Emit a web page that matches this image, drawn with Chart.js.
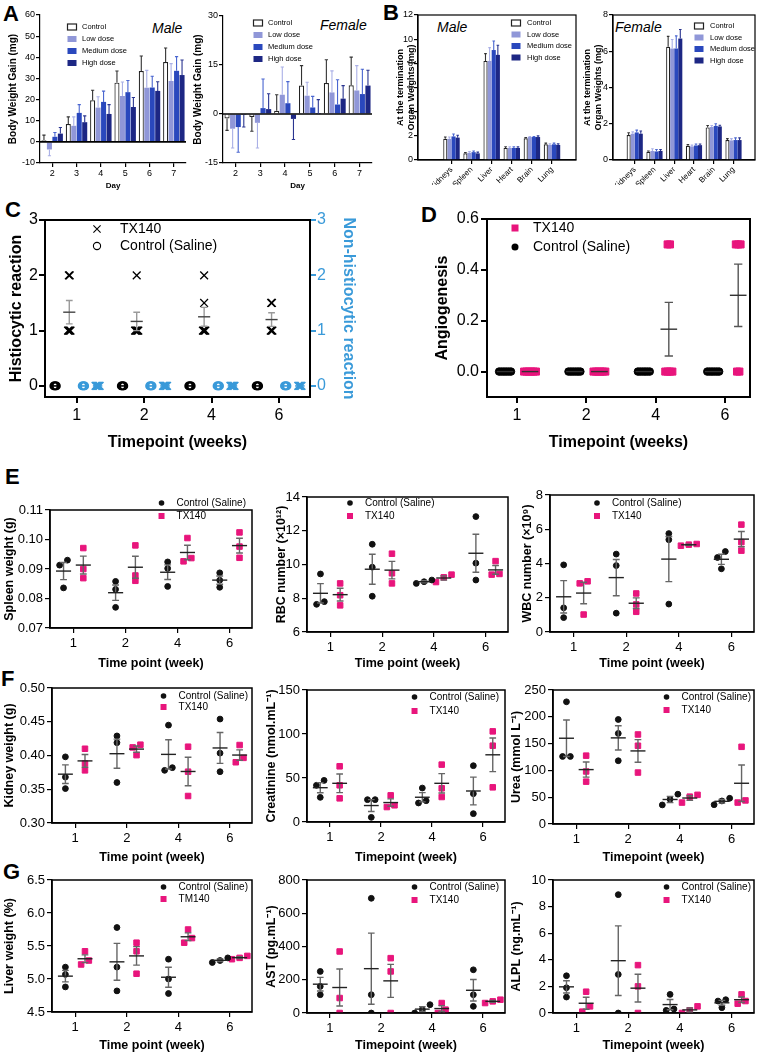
<!DOCTYPE html>
<html>
<head>
<meta charset="utf-8">
<title>Toxicity panels</title>
<script src="https://cdn.jsdelivr.net/npm/chart.js@4.4.1/dist/chart.umd.min.js"></script>
<style>
  html, body { margin: 0; padding: 0; background: #fff; }
  body { position: relative; width: 760px; height: 1058px; overflow: hidden; font-family: Arial, "Liberation Sans", sans-serif; }
  canvas { position: absolute; }
  .tag { position: absolute; font-weight: bold; font-size: 22px; line-height: 1; }
  .sex { position: absolute; font-style: italic; font-size: 14px; line-height: 1; }
</style>
</head>
<body>
<div class="tag" style="left:3px;top:3px">A</div>
<div class="tag" style="left:383px;top:2px">B</div>
<div class="tag" style="left:5px;top:199px">C</div>
<div class="tag" style="left:421px;top:204px">D</div>
<div class="tag" style="left:5px;top:466px">E</div>
<div class="tag" style="left:1px;top:668px">F</div>
<div class="tag" style="left:3px;top:861px">G</div>
<div class="sex" style="left:152px;top:21px">Male</div>
<div class="sex" style="left:320px;top:18px">Female</div>
<div class="sex" style="left:437px;top:20px">Male</div>
<div class="sex" style="left:615px;top:20px">Female</div>

<script>
// ---------- data: body weight gain (A) ----------
const days = ['2', '3', '4', '5', '6', '7'];
const doses = ['Control', 'Low dose', 'Medium dose', 'High dose'];
const maleGain = [
  [0.8, 8.4, 19.7, 28.0, 33.5, 37.8],
  [-3.6, 7.6, 16.2, 21.7, 25.6, 28.8],
  [2.4, 13.7, 18.9, 23.5, 25.7, 33.6],
  [3.9, 9.3, 13.2, 16.5, 24.1, 31.6]
];
const maleGainSD = [
  [2.4, 3.4, 4.7, 5.5, 7.1, 6.6],
  [3.0, 4.2, 5.1, 6.6, 8.2, 8.2],
  [2.0, 3.9, 5.1, 5.5, 5.3, 6.7],
  [2.9, 3.0, 4.4, 4.5, 4.3, 7.1]
];
const femaleGain = [
  [-1.4, -0.9, 1.0, 8.7, 9.5, 8.8],
  [-4.5, -2.7, 5.9, 5.6, 6.6, 7.2],
  [-4.0, 1.8, 3.3, 2.0, 2.9, 6.1],
  [-0.3, 1.5, -1.5, 0.05, 4.7, 8.7]
];
const femaleGainSD = [
  [3.6, 4.4, 4.9, 6.1, 7.1, 8.6],
  [5.9, 7.7, 8.5, 4.1, 6.6, 7.6],
  [7.7, 8.9, 6.6, 3.4, 7.6, 7.6],
  [3.7, 4.7, 6.3, 4.35, 4.0, 4.7]
];

// ---------- data: organ weights (B) ----------
const organs = ['Kidneys', 'Spleen', 'Liver', 'Heart', 'Brain', 'Lung'];
const maleOrgan = [
  [1.75, 0.55, 8.2, 1.0, 1.8, 1.3],
  [1.75, 0.6, 8.2, 1.0, 1.9, 1.25],
  [1.95, 0.65, 9.1, 1.0, 1.9, 1.3],
  [1.85, 0.55, 8.7, 1.0, 1.9, 1.25]
];
const maleOrganSD = [
  [0.15, 0.07, 0.6, 0.1, 0.05, 0.1],
  [0.15, 0.1, 1.1, 0.1, 0.05, 0.1],
  [0.2, 0.1, 0.75, 0.1, 0.05, 0.1],
  [0.2, 0.1, 0.8, 0.1, 0.1, 0.1]
];
const femaleOrgan = [
  [1.38, 0.45, 6.25, 0.78, 1.8, 1.1],
  [1.45, 0.5, 6.15, 0.75, 1.82, 1.08],
  [1.52, 0.47, 6.15, 0.8, 1.88, 1.1],
  [1.45, 0.5, 6.7, 0.82, 1.85, 1.1]
];
const femaleOrganSD = [
  [0.12, 0.05, 0.57, 0.07, 0.1, 0.08],
  [0.1, 0.12, 0.5, 0.07, 0.08, 0.1],
  [0.13, 0.11, 0.7, 0.08, 0.12, 0.12],
  [0.15, 0.08, 0.5, 0.06, 0.07, 0.12]
];

// ---------- data: histology scores (C, D) ----------
const weeks = ['1', '2', '4', '6'];
const histTX = [[2, 2, 1, 1, 1, 1], [2, 1, 1, 1, 1, 1], [2, 1.5, 1, 1, 1, 1], [1.5, 1.5, 1, 1, 1]];
const histCtrl = [[0, 0, 0, 0, 0], [0, 0, 0, 0, 0], [0, 0, 0, 0, 0], [0, 0, 0, 0, 0]];
const nonHistTX = [[0, 0, 0, 0, 0, 0], [0, 0, 0, 0, 0, 0], [0, 0, 0, 0, 0, 0], [0, 0, 0, 0, 0]];
const nonHistCtrl = [[0, 0, 0, 0, 0], [0, 0, 0, 0, 0], [0, 0, 0, 0, 0], [0, 0, 0, 0, 0]];
const angioCtrl = [[0, 0, 0, 0, 0, 0], [0, 0, 0, 0, 0, 0], [0, 0, 0, 0, 0, 0], [0, 0, 0, 0, 0, 0]];
const angioTX = [[0, 0, 0, 0, 0, 0], [0, 0, 0, 0, 0, 0], [0.5, 0.5, 0, 0, 0, 0], [0.5, 0.5, 0.5, 0, 0]];

// ---------- data: organ / blood measures (E, F, G) ----------
const spleenCtrl = [[0.0930, 0.0913, 0.0836], [0.0858, 0.0831, 0.0770], [0.0924, 0.0902, 0.0841], [0.0887, 0.0862, 0.0838]];
const spleenTX = [[0.0971, 0.0900, 0.0869], [0.0980, 0.0878, 0.0860], [0.1005, 0.0926, 0.0937], [0.1024, 0.0976, 0.0938]];
const rbcCtrl = [[9.44, 7.64, 7.80], [11.2, 9.84, 8.12], [8.88, 9.08, 8.98], [12.84, 10.08, 9.08]];
const rbcTX = [[8.88, 8.18, 7.58], [10.64, 9.48, 8.88], [9.40, 8.96, 9.24], [10.2, 9.40, 9.44]];
const wbcCtrl = [[3.92, 1.41, 0.84], [4.55, 3.88, 1.10], [5.75, 5.39, 1.63], [4.70, 4.35, 3.69]];
const wbcTX = [[2.96, 2.84, 1.02], [2.25, 1.61, 1.18], [5.04, 5.14, 5.10], [6.27, 5.25, 4.75]];
const kidneyCtrl = [[0.398, 0.368, 0.351], [0.429, 0.419, 0.360], [0.445, 0.378, 0.382], [0.454, 0.4035, 0.376]];
const kidneyTX = [[0.410, 0.388, 0.378], [0.416, 0.412, 0.4005], [0.413, 0.376, 0.340], [0.4155, 0.390, 0.3965]];
const creatCtrl = [[47.3, 41.7, 28.0], [25.4, 25.4, 5.3], [38.6, 21.6, 24.2], [64.0, 32.2, 9.5]];
const creatTX = [[63.3, 41.7, 26.9], [30.3, 17.0, 19.0], [65.2, 38.3, 28.4], [103, 86.7, 39.4]];
const ureaCtrl = [[228, 126, 126], [195, 169, 118], [55.6, 35.6, 46], [48, 36, 43]];
const ureaTX = [[127.5, 98, 79], [167, 146, 96], [54.4, 40, 51], [144, 44, 40]];
const liverCtrl = [[5.18, 5.07, 4.88], [5.78, 5.18, 4.82], [5.30, 5.00, 4.78], [5.32, 5.28, 5.25]];
const liverTX = [[5.42, 5.28, 5.22], [5.55, 5.42, 5.08], [5.75, 5.62, 5.55], [5.35, 5.32, 5.30]];
const astCtrl = [[250, 160, 110], [690, 110, 0], [50, 20, 0], [260, 110, 40]];
const astTX = [[370, 90, 0], [330, 250, 0], [60, 20, 0], [80, 70, 60]];
const alplCtrl = [[2.8, 1.9, 1.2], [8.9, 2.9, 0], [1.4, 0.3, 0.2], [1.0, 0.9, 0.4]];
const alplTX = [[1.6, 0.5, 0.1], [3.6, 2.0, 0], [0.5, 0.2, 0], [1.4, 0.9, 0.7]];

// ---------- styling ----------
const FONT = 'Arial, "Liberation Sans", Helvetica, sans-serif';
const PINK = '#e8157c';
const BLUE = '#3a9ad9';
const doseFill = ['#ffffff', '#9097d8', '#2a48bd', '#1d2784'];
const doseEdge = ['#222222', '#9097d8', '#2a48bd', '#1d2784'];
const doseErr = ['#333333', '#aab0e6', '#4a66d0', '#2a3590'];

Chart.defaults.font.family = FONT;
Chart.defaults.color = '#000';
Chart.defaults.animation = false;
Chart.defaults.responsive = false;
Chart.defaults.maintainAspectRatio = false;
Chart.defaults.devicePixelRatio = 1;
Chart.defaults.events = [];
Chart.defaults.plugins.legend.display = false;
Chart.defaults.plugins.tooltip.enabled = false;

// ---------- plugins ----------
function drawMarker(ctx, it, x, y) {
  ctx.save();
  ctx.fillStyle = it.fill;
  ctx.strokeStyle = it.color;
  ctx.lineWidth = it.lw || 1.2;
  const r = it.r || 3;
  if (it.style === 'circle') {
    ctx.beginPath(); ctx.arc(x, y, r, 0, Math.PI * 2); ctx.fill();
  } else if (it.style === 'ring') {
    ctx.beginPath(); ctx.arc(x, y, r, 0, Math.PI * 2); ctx.stroke();
  } else if (it.style === 'rect') {
    ctx.fillRect(x - r, y - r, 2 * r, 2 * r);
  } else if (it.style === 'cross') {
    ctx.beginPath();
    ctx.moveTo(x - r, y - r); ctx.lineTo(x + r, y + r);
    ctx.moveTo(x + r, y - r); ctx.lineTo(x - r, y + r);
    ctx.stroke();
  } else if (it.style === 'box') {
    ctx.fillRect(x - it.w / 2, y - it.h / 2, it.w, it.h);
    if (it.edge !== 'none') { ctx.strokeStyle = it.edge; ctx.strokeRect(x - it.w / 2, y - it.h / 2, it.w, it.h); }
  }
  ctx.restore();
}

const legendPlugin = {
  id: 'lgd',
  afterDraw(chart, args, o) {
    if (!o || !o.items) return;
    const ctx = chart.ctx, a = chart.chartArea;
    ctx.save();
    ctx.font = o.size + 'px ' + FONT;
    ctx.textBaseline = 'middle';
    let x0 = a.left + (o.x || 0);
    if (o.right != null) {
      const w = Math.max(...o.items.map(it => ctx.measureText(it.label).width));
      x0 = a.right - o.right - w - o.gap;
    }
    o.items.forEach((it, k) => {
      const y = a.top + o.y + k * o.row;
      drawMarker(ctx, it, x0, y);
      ctx.fillStyle = '#000';
      ctx.fillText(it.label, x0 + o.gap, y);
    });
    ctx.restore();
  }
};

const framePlugin = {
  id: 'frame',
  afterDatasetsDraw(chart, args, o) {
    if (!o || !o.on) return;
    const ctx = chart.ctx, a = chart.chartArea;
    ctx.save();
    ctx.strokeStyle = '#000';
    ctx.lineWidth = o.width || 1.5;
    ctx.strokeRect(a.left, a.top, a.right - a.left, a.bottom - a.top);
    ctx.restore();
  }
};

const zeroPlugin = {
  id: 'zero',
  afterDatasetsDraw(chart, args, o) {
    if (!o || !o.on) return;
    const ctx = chart.ctx, a = chart.chartArea;
    const y = chart.scales.y.getPixelForValue(0);
    ctx.save();
    ctx.strokeStyle = '#000';
    ctx.lineWidth = 1.6;
    ctx.beginPath(); ctx.moveTo(a.left, y); ctx.lineTo(a.right, y); ctx.stroke();
    ctx.restore();
  }
};

// SD bars on top of the bars, pointing away from zero
const barErrPlugin = {
  id: 'ebar',
  afterDatasetsDraw(chart, args, o) {
    if (!o || !o.errs) return;
    const ctx = chart.ctx, ys = chart.scales.y;
    o.errs.forEach((errs, d) => {
      const meta = chart.getDatasetMeta(d);
      meta.data.forEach((bar, i) => {
        const raw = chart.data.datasets[d].data[i];
        const val = typeof raw === 'object' ? raw.y : raw;
        const end = val + (val < 0 ? -errs[i] : errs[i]);
        const y0 = ys.getPixelForValue(val), y1 = ys.getPixelForValue(end);
        const cw = bar.width * 0.32;
        ctx.save();
        ctx.strokeStyle = o.colors[d];
        ctx.lineWidth = o.lw || 1.2;
        ctx.beginPath();
        ctx.moveTo(bar.x, y0); ctx.lineTo(bar.x, y1);
        ctx.moveTo(bar.x - cw, y1); ctx.lineTo(bar.x + cw, y1);
        ctx.stroke();
        ctx.restore();
      });
    });
  }
};

// mean line + SEM whiskers per group and timepoint
const semPlugin = {
  id: 'sem',
  afterDatasetsDraw(chart, args, o) {
    if (!o || !o.groups) return;
    const ctx = chart.ctx, xs = chart.scales.x;
    o.groups.forEach(g => {
      if (!g.meanW) return;
      const ys = chart.scales[g.axis || 'y'];
      g.values.forEach((vals, i) => {
        const n = vals.length;
        const m = vals.reduce((s, v) => s + v, 0) / n;
        const sd = n > 1 ? Math.sqrt(vals.reduce((s, v) => s + (v - m) * (v - m), 0) / (n - 1)) : 0;
        const se = sd / Math.sqrt(n);
        const cx = xs.getPixelForValue(i + g.dx);
        const half = xs.getPixelForValue(i + g.dx + g.meanW / 2) - cx;
        const cap = xs.getPixelForValue(i + g.dx + g.capW / 2) - cx;
        const py = ys.getPixelForValue(m);
        ctx.save();
        ctx.lineWidth = g.mlw || 1.4;
        if (se > 0) {
          const p1 = ys.getPixelForValue(m + se), p2 = ys.getPixelForValue(m - se);
          ctx.strokeStyle = g.whisker || '#555';
          ctx.beginPath();
          ctx.moveTo(cx, p1); ctx.lineTo(cx, p2);
          ctx.moveTo(cx - cap, p1); ctx.lineTo(cx + cap, p1);
          ctx.moveTo(cx - cap, p2); ctx.lineTo(cx + cap, p2);
          ctx.stroke();
        }
        ctx.strokeStyle = g.meanColor || '#222';
        ctx.beginPath(); ctx.moveTo(cx - half, py); ctx.lineTo(cx + half, py); ctx.stroke();
        ctx.restore();
      });
    });
  }
};

Chart.register(legendPlugin, framePlugin, zeroPlugin, barErrPlugin, semPlugin);

// ---------- helpers ----------
function makeCanvas(box) {
  const c = document.createElement('canvas');
  const left = box.L - box.lw, top = box.T - box.tp;
  const w = box.R + box.rw - left, h = box.B + box.bh - top;
  c.width = w; c.height = h;
  c.style.left = left + 'px'; c.style.top = top + 'px';
  c.style.width = w + 'px'; c.style.height = h + 'px';
  document.body.appendChild(c);
  return c;
}

function yAxis(o) {
  const col = o.color || '#000';
  return {
    type: 'linear', position: o.pos || 'left', min: o.min, max: o.max,
    afterBuildTicks: s => { s.ticks = o.ticks.map(v => ({ value: v })); },
    afterFit: s => { s.width = o.w; },
    ticks: { font: { size: o.fs }, color: col, padding: o.tpad == null ? 2 : o.tpad, callback: o.fmt || (v => v) },
    grid: { drawOnChartArea: false, drawTicks: true, tickLength: o.tl || 5, color: col, lineWidth: o.glw || 1.2 },
    border: { display: true, color: col, width: o.bw || 1.5 },
    title: { display: true, text: o.title, color: col, font: { size: o.tfs, weight: 'bold' }, padding: { top: o.tpt, bottom: 0 } }
  };
}

function xAxis(o) {
  const base = {
    position: 'bottom',
    afterFit: s => { s.height = o.h; },
    ticks: { font: { size: o.fs }, padding: o.tpad == null ? 3 : o.tpad, autoSkip: false,
             minRotation: o.rot || 0, maxRotation: o.rot || 0 },
    grid: { drawOnChartArea: false, drawTicks: true, tickLength: o.tl || 5, color: '#000', lineWidth: o.glw || 1.2, offset: false },
    border: { display: true, color: '#000', width: o.bw || 1.5 },
    title: { display: !!o.title, text: o.title, font: { size: o.tfs, weight: 'bold' }, padding: { top: 0, bottom: o.tpb || 0 } }
  };
  if (o.category) {
    base.type = 'category';
    base.offset = true;
  } else {
    base.type = 'linear';
    base.min = o.min; base.max = o.max;
    base.afterBuildTicks = s => { s.ticks = o.labels.map((_, i) => ({ value: i })); };
    base.ticks.callback = v => o.labels[v];
  }
  return base;
}

// spread overlapping points sideways, like a scatter dot plot
function swarm(vals, thr, step) {
  const idx = vals.map((v, i) => i).sort((a, b) => vals[a] - vals[b]);
  const off = new Array(vals.length).fill(0);
  let cluster = [idx[0]];
  const flush = () => cluster.forEach((k, j) => { off[k] = (j - (cluster.length - 1) / 2) * step; });
  for (let j = 1; j < idx.length; j++) {
    if (vals[idx[j]] - vals[idx[j - 1]] < thr) cluster.push(idx[j]);
    else { flush(); cluster = [idx[j]]; }
  }
  flush();
  return off;
}

function toPoints(values, dx, thr, step) {
  const out = [];
  values.forEach((vals, i) => {
    const off = swarm(vals, thr, step);
    vals.forEach((v, k) => out.push({ x: i + dx + off[k], y: v }));
  });
  return out;
}

function barChart(box, o) {
  const cv = makeCanvas(box);
  const datasets = o.series.map((vals, d) => ({
    label: doses[d],
    data: o.category ? vals : vals.map((v, i) => ({ x: i, y: v })),
    backgroundColor: doseFill[d],
    borderColor: doseEdge[d],
    borderWidth: d === 0 ? 1.2 : 0,
    categoryPercentage: o.catPct,
    barPercentage: o.barPct
  }));
  return new Chart(cv, {
    type: 'bar',
    data: { labels: o.category ? o.labels : undefined, datasets },
    options: {
      layout: { padding: { top: box.tp, right: box.rw, left: 0, bottom: 0 } },
      scales: {
        x: xAxis(o.x),
        y: yAxis(o.y)
      },
      plugins: {
        ebar: { errs: o.errs, colors: doseErr, lw: 1.1 },
        zero: { on: !!o.zero },
        frame: { on: !!o.frame, width: 1.2 },
        lgd: o.legend
      }
    }
  });
}

function dotChart(box, o) {
  const cv = makeCanvas(box);
  const datasets = o.groups.map(g => ({
    data: toPoints(g.values, g.dx, g.thr, g.step),
    yAxisID: g.axis || 'y',
    pointStyle: g.style,
    pointRadius: g.r,
    borderWidth: g.bw || 1,
    backgroundColor: g.fill,
    borderColor: g.stroke,
    pointBackgroundColor: g.fill,
    pointBorderColor: g.stroke,
    pointBorderWidth: g.bw || 1
  }));
  const scales = { x: xAxis(o.x), y: yAxis(o.y) };
  if (o.y1) scales.y1 = yAxis(o.y1);
  return new Chart(cv, {
    type: 'scatter',
    data: { datasets },
    options: {
      layout: { padding: { top: box.tp, right: o.y1 ? 0 : box.rw, left: 0, bottom: 0 } },
      scales,
      plugins: {
        sem: { groups: o.groups },
        frame: { on: true, width: o.frameW || 1.5 },
        lgd: o.legend
      }
    }
  });
}

const doseLegend = doses.map((d, k) => ({ label: d, style: 'box', w: 9, h: 6, color: doseFill[k], fill: doseFill[k], edge: k === 0 ? '#222' : 'none' }));

// ---------- A: body weight gain ----------
barChart({ L: 40, T: 15, R: 186, B: 163, lw: 40, rw: 4, tp: 10, bh: 29 }, {
  category: true, labels: days, series: maleGain, errs: maleGainSD, catPct: 0.9, barPct: 0.92, zero: true,
  x: { category: true, h: 29, fs: 9, tl: 4, tpad: 1, title: 'Day', tfs: 8, tpb: 1.5, bw: 1.2 },
  y: { min: -10, max: 60, ticks: [-10, 0, 10, 20, 30, 40, 50, 60], w: 40, fs: 9, tl: 4, tpad: 1,
       title: 'Body Weight Gain (mg)', tfs: 10, tpt: 7, bw: 1.2 },
  legend: { items: doseLegend, x: 32, y: 12, row: 12, gap: 10, size: 7.5 }
});
barChart({ L: 223, T: 16, R: 372, B: 163, lw: 33, rw: 6, tp: 10, bh: 29 }, {
  category: true, labels: days, series: femaleGain, errs: femaleGainSD, catPct: 0.9, barPct: 0.92, zero: true,
  x: { category: true, h: 29, fs: 9, tl: 4, tpad: 1, title: 'Day', tfs: 8, tpb: 1.5, bw: 1.2 },
  y: { min: -15, max: 30, ticks: [-15, 0, 15, 30], w: 33, fs: 9, tl: 4, tpad: 1,
       title: 'Body Weight Gain (mg)', tfs: 10, tpt: 2, bw: 1.2 },
  legend: { items: doseLegend, x: 35, y: 7, row: 12, gap: 10, size: 7.5 }
});

// ---------- B: organ weights ----------
barChart({ L: 418, T: 15, R: 576, B: 160, lw: 38, rw: 4, tp: 10, bh: 25 }, {
  category: false, series: maleOrgan, errs: maleOrganSD, catPct: 0.82, barPct: 1, frame: true,
  x: { labels: organs, min: -1.01, max: 5.54, h: 25, fs: 8, tl: 4, tpad: 1, rot: 45, bw: 1.2 },
  y: { min: 0, max: 12, ticks: [0, 2, 4, 6, 8, 10, 12], w: 38, fs: 9, tl: 4, tpad: 1,
       title: ['At the termination', 'Organ Weights (mg)'], tfs: 9, tpt: 15.6, bw: 1.2 },
  legend: { items: doseLegend, x: 98, y: 8, row: 11.5, gap: 11, size: 7.5 }
});
barChart({ L: 613, T: 15, R: 755, B: 160, lw: 38, rw: 4, tp: 10, bh: 25 }, {
  category: false, series: femaleOrgan, errs: femaleOrganSD, catPct: 0.82, barPct: 1, frame: true,
  x: { labels: organs, min: -0.5, max: 5.49, h: 25, fs: 8, tl: 4, tpad: 1, rot: 45, bw: 1.2 },
  y: { min: 0, max: 8, ticks: [0, 2, 4, 6, 8], w: 38, fs: 9, tl: 4, tpad: 1,
       title: ['At the termination', 'Organ Weights (mg)'], tfs: 9, tpt: 7.6, bw: 1.2 },
  legend: { items: doseLegend, x: 86, y: 11, row: 11.5, gap: 11, size: 7.5 }
});

// ---------- C: histiocytic / non-histiocytic reaction ----------
dotChart({ L: 45, T: 220, R: 310, B: 397, lw: 45, rw: 50, tp: 12, bh: 58 }, {
  frameW: 2,
  groups: [
    { values: histCtrl, dx: -0.32, style: 'circle', r: 3.6, bw: 1.5, fill: 'rgba(0,0,0,0)', stroke: '#000', thr: 0.05, step: 0.01,
      meanW: 0.14, capW: 0.1, meanColor: '#000', mlw: 1.6 },
    { values: histTX, dx: -0.11, style: 'crossRot', r: 5.5, bw: 1.3, fill: '#000', stroke: '#000', thr: 0.05, step: 0.012,
      meanW: 0.18, capW: 0.1, meanColor: '#444', whisker: '#9a9a9a', mlw: 1.4 },
    { values: nonHistCtrl, dx: 0.10, axis: 'y1', style: 'circle', r: 3.6, bw: 1.5, fill: 'rgba(0,0,0,0)', stroke: BLUE, thr: 0.05, step: 0.01,
      meanW: 0.14, capW: 0.1, meanColor: BLUE, mlw: 1.6 },
    { values: nonHistTX, dx: 0.31, axis: 'y1', style: 'crossRot', r: 5.5, bw: 1.5, fill: BLUE, stroke: BLUE, thr: 0.05, step: 0.012,
      meanW: 0.14, capW: 0.1, meanColor: BLUE, mlw: 1.6 }
  ],
  x: { labels: weeks, min: -0.47, max: 3.46, h: 58, fs: 16, tl: 6, tpad: 3, title: 'Timepoint (weeks)', tfs: 16, tpb: 2.4, bw: 2, glw: 2 },
  y: { min: -0.2, max: 3, ticks: [0, 1, 2, 3], w: 45, fs: 16, tl: 6, tpad: 1, title: 'Histiocytic reaction', tfs: 16, tpt: 7.4, bw: 2, glw: 2 },
  y1: { pos: 'right', color: BLUE, min: -0.2, max: 3, ticks: [0, 1, 2, 3], w: 50, fs: 16, tl: 6, tpad: 1,
        title: 'Non-histiocytic reaction', tfs: 16, tpt: 2.4, bw: 2, glw: 2 },
  legend: { items: [
    { label: 'TX140', style: 'cross', color: '#000', fill: '#000', r: 3.6, lw: 1.1 },
    { label: 'Control (Saline)', style: 'ring', color: '#000', fill: '#000', r: 3.6, lw: 1.1 }
  ], x: 52, y: 9, row: 17, gap: 23, size: 14 }
});

// ---------- D: angiogenesis ----------
dotChart({ L: 487, T: 219, R: 750, B: 397, lw: 56, rw: 8, tp: 12, bh: 58 }, {
  frameW: 2,
  groups: [
    { values: angioCtrl, dx: -0.17, style: 'circle', r: 3.8, fill: '#000', stroke: '#000', thr: 0.02, step: 0.034,
      meanW: 0.24, capW: 0.12, meanColor: '#333', whisker: '#555' },
    { values: angioTX, dx: 0.19, style: 'rect', r: 5, fill: PINK, stroke: PINK, thr: 0.02, step: 0.034,
      meanW: 0.24, capW: 0.12, meanColor: '#333', whisker: '#555' }
  ],
  x: { labels: weeks, min: -0.43, max: 3.36, h: 58, fs: 16, tl: 6, tpad: 3, title: 'Timepoint (weeks)', tfs: 16, tpb: 2.4, bw: 2, glw: 2 },
  y: { min: -0.1, max: 0.6, ticks: [0, 0.2, 0.4, 0.6], fmt: v => v.toFixed(1), w: 56, fs: 16, tl: 6, tpad: 2,
       title: 'Angiogenesis', tfs: 16, tpt: 2.4, bw: 2, glw: 2 },
  legend: { items: [
    { label: 'TX140', style: 'rect', color: PINK, fill: PINK, r: 3.5 },
    { label: 'Control (Saline)', style: 'circle', color: '#000', fill: '#000', r: 3.5 }
  ], x: 28, y: 9, row: 19, gap: 18, size: 14 }
});

// ---------- E, F, G: paired dot plots ----------
function pairGroups(ctrl, tx, range) {
  const thr = range * 0.045;
  return [
    { values: ctrl, dx: -0.19, style: 'circle', r: 2.9, fill: '#111', stroke: '#111', thr, step: 0.15,
      meanW: 0.29, capW: 0.13, meanColor: '#222', whisker: '#666' },
    { values: tx, dx: 0.19, style: 'rect', r: 3.9, fill: PINK, stroke: PINK, thr, step: 0.15,
      meanW: 0.29, capW: 0.13, meanColor: '#222', whisker: '#666' }
  ];
}

function pairChart(box, o) {
  const range = o.max - o.min;
  return dotChart(box, {
    groups: pairGroups(o.ctrl, o.tx, range),
    x: { labels: weeks, min: -0.45, max: 3.43, h: box.bh, fs: 13, tl: 5, tpad: 3, title: o.xTitle, tfs: 12.5, tpb: 0.5 },
    y: { min: o.min, max: o.max, ticks: o.ticks, fmt: o.fmt, w: box.lw, fs: 13, tl: 5, tpad: 2, title: o.yTitle, tfs: 12.5, tpt: 2.5 },
    legend: Object.assign({ items: [
      { label: 'Control (Saline)', style: 'circle', color: '#111', fill: '#111', r: 2.8 },
      { label: o.txName || 'TX140', style: 'rect', color: PINK, fill: PINK, r: 3 }
    ], gap: 15, size: 10, row: 13 }, o.legend)
  });
}

const f2 = v => v.toFixed(2);
const f1 = v => v.toFixed(1);

pairChart({ L: 50, T: 510, R: 252, B: 628, lw: 50, rw: 5, tp: 14, bh: 44 }, {
  ctrl: spleenCtrl, tx: spleenTX, min: 0.07, max: 0.11, ticks: [0.07, 0.08, 0.09, 0.10, 0.11], fmt: f2,
  yTitle: 'Spleen weight (g)', xTitle: 'Time point (week)', legend: { right: 6, y: -7 }
});
pairChart({ L: 307, T: 497, R: 508, B: 632, lw: 35, rw: 5, tp: 12, bh: 40 }, {
  ctrl: rbcCtrl, tx: rbcTX, min: 6, max: 14, ticks: [6, 8, 10, 12, 14],
  yTitle: 'RBC number (\u00d710\u00b9\u00b2)', xTitle: 'Time point (week)', legend: { x: 43, y: 6 }
});
pairChart({ L: 550, T: 495, R: 755, B: 632, lw: 32, rw: 4, tp: 12, bh: 40 }, {
  ctrl: wbcCtrl, tx: wbcTX, min: 0, max: 8, ticks: [0, 2, 4, 6, 8],
  yTitle: 'WBC number (\u00d710\u2079)', xTitle: 'Time point (week)', legend: { x: 47, y: 8 }
});

pairChart({ L: 52, T: 688, R: 252, B: 823, lw: 52, rw: 5, tp: 12, bh: 43 }, {
  ctrl: kidneyCtrl, tx: kidneyTX, min: 0.30, max: 0.50, ticks: [0.30, 0.35, 0.40, 0.45, 0.50], fmt: f2,
  yTitle: 'Kidney weight (g)', xTitle: 'Time point (week)', legend: { right: 4, y: 8, row: 11 }
});
pairChart({ L: 307, T: 690, R: 505, B: 822, lw: 45, rw: 5, tp: 12, bh: 44 }, {
  ctrl: creatCtrl, tx: creatTX, min: 0, max: 150, ticks: [0, 50, 100, 150],
  yTitle: 'Creatinine (nmol.mL\u207b\u00b9)', xTitle: 'Timepoint (week)', legend: { right: 6, y: 7, row: 14 }
});
pairChart({ L: 553, T: 690, R: 755, B: 824, lw: 46, rw: 4, tp: 12, bh: 42 }, {
  ctrl: ureaCtrl, tx: ureaTX, min: 0, max: 250, ticks: [0, 50, 100, 150, 200, 250],
  yTitle: 'Urea (mmol L\u207b\u00b9)', xTitle: 'Timepoint (week)', legend: { right: 3, y: 7, row: 13 }
});

pairChart({ L: 52, T: 880, R: 252, B: 1012, lw: 52, rw: 5, tp: 10, bh: 42 }, {
  ctrl: liverCtrl, tx: liverTX, min: 4.5, max: 6.5, ticks: [4.5, 5.0, 5.5, 6.0, 6.5], fmt: f1, txName: 'TM140',
  yTitle: 'Liver weight (%)', xTitle: 'Time point (week)', legend: { right: 4, y: 7, row: 12 }
});
pairChart({ L: 307, T: 880, R: 505, B: 1013, lw: 45, rw: 5, tp: 10, bh: 41 }, {
  ctrl: astCtrl, tx: astTX, min: 0, max: 800, ticks: [0, 200, 400, 600, 800],
  yTitle: 'AST (pg.mL\u207b\u00b9)', xTitle: 'Timepoint (week)', legend: { right: 6, y: 7, row: 13 }
});
pairChart({ L: 553, T: 880, R: 755, B: 1013, lw: 46, rw: 4, tp: 10, bh: 41 }, {
  ctrl: alplCtrl, tx: alplTX, min: 0, max: 10, ticks: [0, 2, 4, 6, 8, 10],
  yTitle: 'ALPL (ng.mL\u207b\u00b9)', xTitle: 'Timepoint (week)', legend: { right: 3, y: 7, row: 13 }
});
</script>
</body>
</html>
